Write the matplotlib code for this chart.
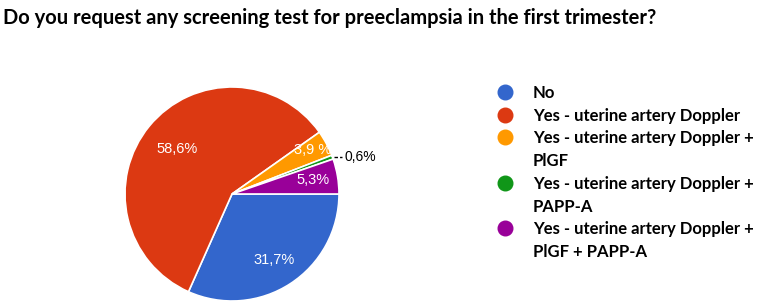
import matplotlib
matplotlib.use("Agg")
import matplotlib.pyplot as plt
from matplotlib.lines import Line2D
import numpy as np

title = "Do you request any screening test for preeclampsia in the first trimester?"
categories = ["No", "Yes - uterine artery Doppler", "Yes - uterine artery Doppler +\nPlGF",
              "Yes - uterine artery Doppler +\nPAPP-A", "Yes - uterine artery Doppler +\nPlGF + PAPP-A"]
values = [31.7, 58.6, 3.9, 0.6, 5.3]
pct_labels = ["31,7%", "58,6%", "3,9 %", "0,6%", "5,3%"]
colors = ["#3366cc", "#dc3912", "#ff9900", "#109618", "#990099"]

W, H = 765, 306
fig = plt.figure(figsize=(W / 100, H / 100), dpi=100)
fig.patch.set_facecolor("white")

cx, cy, r = 232, 112, 107  # pixel centre (from bottom) and radius
ax = fig.add_axes([(cx - r) / W, (cy - r) / H, 2 * r / W, 2 * r / H])
wedges, _ = ax.pie(values, colors=colors, startangle=0, counterclock=False,
                   radius=1, wedgeprops=dict(edgecolor="white", linewidth=1.2))
ax.set_xlim(-1, 1)
ax.set_ylim(-1, 1)
ax.set_aspect("equal")
ax.axis("off")

dists = [0.73, 0.67, 0.86, None, 0.77]
for w, lab, d in zip(wedges, pct_labels, dists):
    ang = np.deg2rad((w.theta1 + w.theta2) / 2)
    if d is None:
        x0, y0 = np.cos(ang), np.sin(ang)
        ax.plot([x0 + 0.01, x0 + 0.09], [y0, y0], color="black", lw=1.0,
                ls=(0, (2.5, 1.5)), clip_on=False)
        ax.text(x0 + 0.11, y0, lab, ha="left", va="center", fontsize=10,
                family="Liberation Sans", color="black")
    else:
        ax.text(d * np.cos(ang), d * np.sin(ang), lab, ha="center", va="center",
                fontsize=10.5, family="Liberation Sans", color="white")

fig.text(3 / W, 1 - 18 / H, title, ha="left", va="center", fontsize=14.5,
         family="Lato", fontweight="bold", color="black")

line_h = 22.7
y = 93
mx, tx = 505, 533
for lab, c in zip(categories, colors):
    fig.add_artist(Line2D([mx / W], [1 - (y - 1) / H], marker="o", markersize=10.5,
                          color=c, linestyle="none", transform=fig.transFigure))
    for i, line in enumerate(lab.split("\n")):
        fig.text(tx / W, 1 - (y + i * line_h) / H, line, ha="left", va="center",
                 fontsize=12, family="Lato", fontweight="bold", color="black")
    y += line_h * len(lab.split("\n"))

fig.savefig("out.png", dpi=100, facecolor="white")
